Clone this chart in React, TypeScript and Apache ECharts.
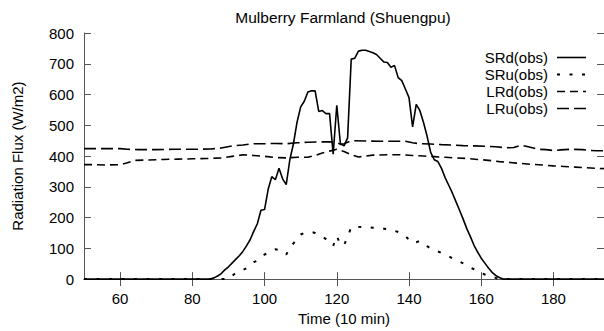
import React, { useEffect, useRef } from "react";
import * as echarts from "echarts";

const titleText = "Mulberry Farmland (Shuengpu)";
const xName = "Time (10 min)";
const yName = "Radiation Flux (W/m2)";
const xTicks = [60, 80, 100, 120, 140, 160, 180];

const srdT = [50, 85, 86, 87, 88, 89, 90, 91, 92, 93, 94, 95, 96, 97, 98, 99, 100, 101, 102, 103, 104, 105, 106, 107, 108, 109, 110, 111, 112, 113, 114, 115, 116, 117, 118, 119, 120, 121, 122, 123, 124, 125, 126, 127, 128, 129, 130, 131, 132, 133, 134, 135, 136, 137, 138, 139, 140, 141, 142, 143, 144, 145, 146, 147, 148, 149, 150, 151, 152, 153, 154, 155, 156, 157, 158, 159, 160, 161, 162, 163, 164, 165, 166, 194];
const srdV = [0, 0, 4, 10, 18, 30, 40, 52, 64, 76, 90, 108, 128, 155, 180, 224, 226, 292, 333, 323, 360, 326, 307, 388, 440, 510, 560, 578, 608, 612, 612, 545, 548, 538, 538, 406, 565, 440, 433, 459, 715, 718, 741, 744, 744, 740, 736, 730, 718, 706, 704, 689, 694, 655, 645, 618, 590, 495, 568, 548, 510, 465, 412, 388, 382, 360, 330, 305, 280, 252, 224, 195, 164, 138, 110, 88, 68, 52, 36, 22, 12, 5, 0, 0];

const sruT = [50, 90, 91, 92, 93, 94, 95, 96, 97, 98, 99, 100, 101, 102, 103, 104, 105, 106, 107, 108, 109, 110, 111, 112, 113, 114, 115, 116, 117, 118, 119, 120, 121, 122, 123, 124, 125, 126, 127, 128, 129, 130, 131, 132, 133, 134, 135, 136, 137, 138, 139, 140, 141, 142, 143, 144, 145, 146, 147, 148, 149, 150, 151, 152, 153, 154, 155, 156, 157, 158, 159, 160, 161, 162, 163, 164, 165, 194];
const sruV = [0, 0, 10, 20, 25, 30, 35, 45, 55, 60, 70, 80, 85, 90, 97, 95, 88, 80, 100, 116, 130, 145, 150, 152, 153, 150, 145, 138, 130, 118, 108, 140, 112, 110, 138, 168, 172, 170, 169, 169, 168, 167, 166, 165, 164, 162, 161, 157, 153, 148, 140, 128, 117, 120, 124, 115, 107, 100, 95, 90, 85, 80, 74, 68, 63, 57, 51, 44, 38, 32, 26, 20, 15, 11, 8, 4, 0, 0];

const lrdT = [50, 53, 56, 60, 62, 64, 68, 72, 76, 80, 84, 88, 91, 94, 97, 100, 103, 106, 109, 112, 114, 116, 118, 120, 122, 124, 126, 130, 134, 138, 141, 144, 147, 150, 153, 156, 159, 162, 165, 168, 171, 174, 177, 180, 183, 186, 189, 192, 194];
const lrdV = [372, 372, 371, 372, 378, 386, 387, 389, 390, 391, 392, 394, 399, 404, 402, 399, 395, 394, 396, 396, 402, 410, 416, 422, 415, 404, 397, 403, 404, 404, 402, 400, 398, 396, 394, 392, 389, 386, 382, 379, 376, 373, 371, 368, 366, 364, 362, 360, 359];

const lruT = [50, 55, 60, 62, 65, 70, 75, 80, 85, 88, 91, 94, 97, 100, 103, 106, 109, 112, 115, 118, 120, 121, 122, 124, 128, 132, 136, 139, 141, 143, 146, 149, 152, 155, 158, 161, 164, 167, 169, 171, 173, 176, 178, 180, 182, 185, 188, 190, 192, 194];
const lruV = [424, 424, 424, 422, 421, 421, 422, 422, 423, 426, 433, 436, 440, 440, 441, 440, 443, 445, 446, 446, 445, 438, 440, 450, 449, 448, 448, 448, 443, 440, 439, 437, 436, 434, 433, 432, 430, 427, 428, 435, 430, 422, 421, 418, 420, 422, 421, 418, 417, 417];

const seriesNames = ["SRd(obs)", "SRu(obs)", "LRd(obs)", "LRu(obs)"];
const dashTypes: any[] = ["solid", [3, 9.5], [8, 5], [12, 5]];
const widths = [1.6, 2, 1.6, 1.6];

const zip = (t: number[], v: number[]) => t.map((x, i) => [x, v[i]]);

const FONT = "Liberation Sans";
const AX = "#555";

export default function App() {
  const ref = useRef<HTMLDivElement>(null);
  useEffect(() => {
    if (!ref.current) return;
    const chart = echarts.init(ref.current, null, { renderer: "svg" });
    const lineSeries = (i: number, t: number[], v: number[]) => ({
      name: seriesNames[i],
      type: "line",
      data: zip(t, v),
      symbol: "none",
      showSymbol: false,
      xAxisIndex: 0,
      yAxisIndex: 0,
      lineStyle: { color: "#000", width: widths[i], type: dashTypes[i] },
      itemStyle: { color: "#000" },
    });
    chart.setOption({
      animation: false,
      backgroundColor: "#fff",
      textStyle: { fontFamily: FONT },
      title: {
        text: titleText,
        left: 343,
        top: 9,
        textAlign: "center",
        padding: 0,
        textStyle: { fontFamily: FONT, fontSize: 15.5, fontWeight: "normal", color: "#000" },
      },
      legend: {
        orient: "vertical",
        right: 17,
        top: 50,
        align: "right",
        padding: 0,
        itemWidth: 29,
        itemHeight: 14,
        itemGap: 2,
        itemStyle: { opacity: 0 },
        textStyle: { fontFamily: FONT, fontSize: 15, color: "#000", padding: [0, 4, 0, 0] },
        data: seriesNames.map((n, i) => ({
          name: n,
          itemStyle: { opacity: 0 },
          lineStyle: { color: "#000", width: widths[i], type: dashTypes[i] },
        })),
      },
      grid: { left: 84, right: 0, top: 33, bottom: 43, containLabel: false },
      xAxis: [
        {
          type: "value",
          min: 50,
          max: 194,
          name: xName,
          nameLocation: "middle",
          nameGap: 29,
          nameTextStyle: { fontFamily: FONT, fontSize: 15, color: "#000" },
          axisLine: { show: true, lineStyle: { color: AX, width: 1 } },
          axisTick: { show: true, inside: true, length: 7, customValues: xTicks, lineStyle: { color: AX } },
          axisLabel: { customValues: xTicks, margin: 12, fontFamily: FONT, fontSize: 15, color: "#000" },
          splitLine: { show: false },
        },
        {
          type: "value",
          position: "top",
          min: 50,
          max: 194,
          axisLine: { show: true, lineStyle: { color: AX, width: 1 } },
          axisTick: { show: true, inside: true, length: 7, customValues: xTicks, lineStyle: { color: AX } },
          axisLabel: { show: false },
          splitLine: { show: false },
        },
      ],
      yAxis: [
        {
          type: "value",
          min: 0,
          max: 800,
          interval: 100,
          name: yName,
          nameLocation: "middle",
          nameGap: 59,
          nameTextStyle: { fontFamily: FONT, fontSize: 15, color: "#000" },
          axisLine: { show: true, lineStyle: { color: AX, width: 1 } },
          axisTick: { show: true, inside: true, length: 7, lineStyle: { color: AX } },
          axisLabel: { margin: 10, fontFamily: FONT, fontSize: 15, color: "#000" },
          splitLine: { show: false },
        },
        {
          type: "value",
          position: "right",
          min: 0,
          max: 800,
          interval: 100,
          axisLine: { show: true, lineStyle: { color: AX, width: 1 } },
          axisTick: { show: true, inside: true, length: 7, lineStyle: { color: AX } },
          axisLabel: { show: false },
          splitLine: { show: false },
        },
      ],
      series: [
        lineSeries(0, srdT, srdV),
        lineSeries(1, sruT, sruV),
        lineSeries(2, lrdT, lrdV),
        lineSeries(3, lruT, lruV),
      ],
    });
    return () => chart.dispose();
  }, []);
  return <div ref={ref} style={{ position: "fixed", left: 0, top: 0, width: 604, height: 331 }} />;
}
